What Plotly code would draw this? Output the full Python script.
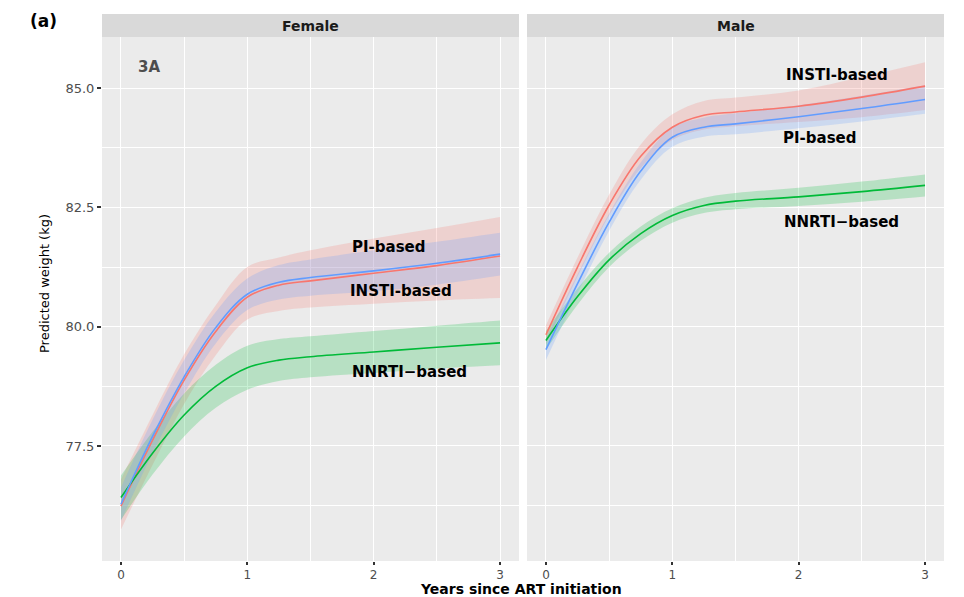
import plotly.graph_objects as go

# ---- data ----
years = [0, 0.25, 0.5, 0.75, 1, 1.25, 1.5, 2, 2.5, 3]

# Female
f_insti = [76.24, 77.62, 78.88, 79.90, 80.62, 80.87, 80.96, 81.12, 81.28, 81.48]
f_insti_lo = [75.75, 77.10, 78.38, 79.40, 80.15, 80.33, 80.40, 80.48, 80.55, 80.60]
f_insti_hi = [76.80, 78.15, 79.42, 80.45, 81.25, 81.45, 81.60, 81.85, 82.07, 82.30]
f_pi = [76.28, 77.70, 78.95, 79.98, 80.68, 80.93, 81.03, 81.17, 81.33, 81.52]
f_pi_lo = [75.93, 77.35, 78.60, 79.65, 80.35, 80.57, 80.65, 80.74, 80.88, 81.07]
f_pi_hi = [76.63, 78.05, 79.30, 80.31, 81.01, 81.29, 81.41, 81.60, 81.78, 81.97]
f_nnrti = [76.42, 77.35, 78.15, 78.75, 79.14, 79.30, 79.37, 79.47, 79.57, 79.66]
f_nnrti_lo = [75.95, 76.90, 77.70, 78.30, 78.68, 78.86, 78.94, 79.03, 79.12, 79.19]
f_nnrti_hi = [76.88, 77.80, 78.60, 79.20, 79.60, 79.74, 79.80, 79.91, 80.02, 80.13]

# Male
m_insti = [79.83, 81.25, 82.55, 83.57, 84.18, 84.43, 84.50, 84.62, 84.81, 85.04]
m_insti_lo = [79.63, 81.05, 82.33, 83.32, 83.91, 84.13, 84.20, 84.29, 84.39, 84.54]
m_insti_hi = [80.03, 81.45, 82.77, 83.82, 84.45, 84.73, 84.80, 84.95, 85.23, 85.54]
m_pi = [79.52, 80.90, 82.19, 83.26, 83.97, 84.18, 84.25, 84.40, 84.57, 84.76]
m_pi_lo = [79.30, 80.70, 82.01, 83.08, 83.77, 83.98, 84.03, 84.16, 84.30, 84.46]
m_pi_hi = [79.74, 81.10, 82.37, 83.44, 84.17, 84.38, 84.47, 84.64, 84.84, 85.06]
m_nnrti = [79.71, 80.63, 81.40, 81.95, 82.33, 82.54, 82.63, 82.72, 82.83, 82.96]
m_nnrti_lo = [79.51, 80.46, 81.25, 81.80, 82.18, 82.38, 82.46, 82.53, 82.62, 82.73]
m_nnrti_hi = [79.91, 80.80, 81.55, 82.10, 82.48, 82.70, 82.80, 82.91, 83.04, 83.19]

x_ticks = [0, 1, 2, 3]
y_ticks = [77.5, 80.0, 82.5, 85.0]
y_tick_labels = ["77.5", "80.0", "82.5", "85.0"]
facets = ["Female", "Male"]

# label positions (x, y) per facet
female_labels = [("PI-based", 2.12, 81.68), ("INSTI-based", 2.22, 80.74), ("NNRTI\u2212based", 2.28, 79.04)]
male_labels = [("INSTI-based", 2.30, 85.27), ("PI-based", 2.17, 83.95), ("NNRTI\u2212based", 2.34, 82.19)]

# ---- styling ----
RED, GREEN, BLUE = "#F8766D", "#00BA38", "#619CFF"
RED_F, GREEN_F, BLUE_F = "rgba(248,118,109,0.22)", "rgba(0,186,56,0.22)", "rgba(97,156,255,0.22)"
FONT = "DejaVu Sans"

fig = go.Figure()

def add_panel(xa, ya, series):
    # ribbons first (lower edge invisible, upper edge filled to it)
    for mean, lo, hi, col, fcol in series:
        fig.add_trace(go.Scatter(
            x=years, y=lo, mode="lines", line=dict(width=0, shape="spline", color=fcol),
            hoverinfo="skip", showlegend=False, xaxis=xa, yaxis=ya))
        fig.add_trace(go.Scatter(
            x=years, y=hi, mode="lines", fill="tonexty", fillcolor=fcol,
            line=dict(width=0, shape="spline", color=fcol),
            hoverinfo="skip", showlegend=False, xaxis=xa, yaxis=ya))
    for mean, lo, hi, col, fcol in series:
        fig.add_trace(go.Scatter(
            x=years, y=mean, mode="lines", line=dict(color=col, width=1.6, shape="spline"),
            showlegend=False, xaxis=xa, yaxis=ya))

add_panel("x", "y", [
    (f_insti, f_insti_lo, f_insti_hi, RED, RED_F),
    (f_nnrti, f_nnrti_lo, f_nnrti_hi, GREEN, GREEN_F),
    (f_pi, f_pi_lo, f_pi_hi, BLUE, BLUE_F),
])
add_panel("x2", "y2", [
    (m_insti, m_insti_lo, m_insti_hi, RED, RED_F),
    (m_nnrti, m_nnrti_lo, m_nnrti_hi, GREEN, GREEN_F),
    (m_pi, m_pi_lo, m_pi_hi, BLUE, BLUE_F),
])

W, H = 964, 597
px = lambda v: v / W
py = lambda v: 1 - v / H

xdom1 = [px(102), px(519)]
xdom2 = [px(527), px(944)]
ydom = [py(561), py(37)]

xaxis_common = dict(
    range=[-0.15, 3.15], tickvals=x_ticks, ticktext=[str(t) for t in x_ticks],
    showgrid=True, gridcolor="white", gridwidth=1.2, zeroline=False,
    minor=dict(dtick=0.5, tick0=0, showgrid=True, gridcolor="white", gridwidth=0.6, ticks=""),
    ticks="outside", ticklen=3, tickwidth=1.6, tickcolor="#333333",
    tickfont=dict(family=FONT, size=12, color="#4D4D4D"), showline=False, fixedrange=True)
yaxis_common = dict(
    range=[75.09, 86.07], tickvals=y_ticks, ticktext=y_tick_labels,
    showgrid=True, gridcolor="white", gridwidth=1.2, zeroline=False,
    minor=dict(dtick=1.25, tick0=0, showgrid=True, gridcolor="white", gridwidth=0.6, ticks=""),
    tickfont=dict(family=FONT, size=13, color="#4D4D4D"), showline=False, fixedrange=True)

fig.update_layout(
    width=W, height=H, autosize=False,
    margin=dict(l=0, r=0, t=0, b=0),
    paper_bgcolor="white", plot_bgcolor="#EBEBEB",
    xaxis=dict(domain=xdom1, anchor="y", **xaxis_common),
    xaxis2=dict(domain=xdom2, anchor="y2", **xaxis_common),
    yaxis=dict(domain=ydom, anchor="x", ticks="outside", ticklen=4, tickwidth=1.6,
               tickcolor="#333333", **yaxis_common),
    yaxis2=dict(domain=ydom, anchor="x2", showticklabels=False, ticks="", **yaxis_common),
    font=dict(family=FONT),
)

def note(text, x, y, size, color="black", xref="paper", yref="paper", angle=0):
    fig.add_annotation(xref=xref, yref=yref, x=x, y=y, text=text, showarrow=False,
                       xanchor="center", yanchor="middle", textangle=angle,
                       font=dict(family=FONT, size=size, color=color))

# facet strips
for name, dom in zip(facets, [xdom1, xdom2]):
    fig.add_shape(type="rect", xref="paper", yref="paper", x0=dom[0], x1=dom[1],
                  y0=py(37), y1=py(14), fillcolor="#D9D9D9", line=dict(width=0), layer="below")
    note("<b>%s</b>" % name, (dom[0] + dom[1]) / 2, py(25.5), 14, "#1A1A1A")

# in-panel labels
for txt, xv, yv in female_labels:
    note("<b>%s</b>" % txt, xv, yv, 15, xref="x", yref="y")
for txt, xv, yv in male_labels:
    note("<b>%s</b>" % txt, xv, yv, 15, xref="x2", yref="y2")
note("<b>3A</b>", 0.22, 85.44, 15, "#4D4D4D", xref="x", yref="y")

# titles
note("<b>Years since ART initiation</b>", px(521), py(588.5), 14)
note("Predicted weight (kg)", px(44), py(284), 13, angle=-90)
note("<b>(a)</b>", px(43), py(21.5), 17)

fig.write_html("out.html")
